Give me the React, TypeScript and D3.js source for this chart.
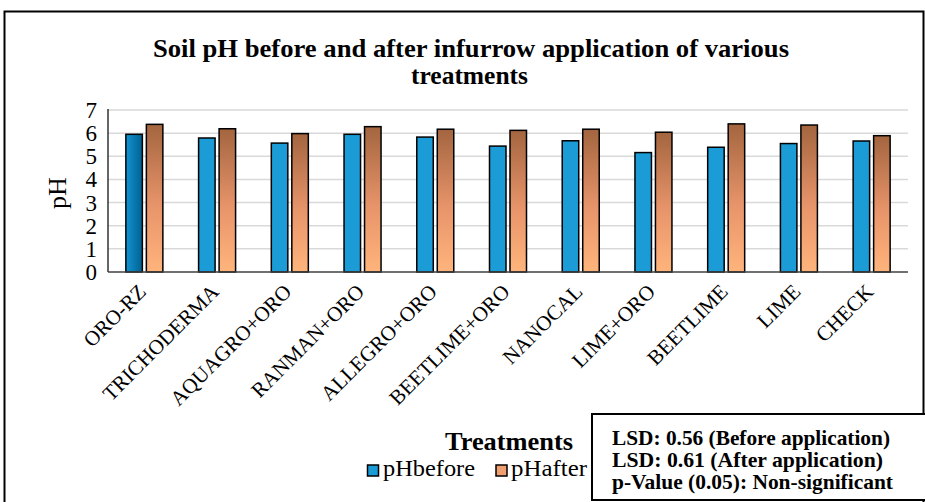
import React from "react";
import * as d3 from "d3";

const categories = ["ORO-RZ", "TRICHODERMA", "AQUAGRO+ORO", "RANMAN+ORO", "ALLEGRO+ORO", "BEETLIME+ORO", "NANOCAL", "LIME+ORO", "BEETLIME", "LIME", "CHECK"];
const pHbefore = [5.95, 5.79, 5.57, 5.95, 5.83, 5.44, 5.67, 5.16, 5.39, 5.55, 5.66];
const pHafter = [6.38, 6.19, 5.98, 6.28, 6.17, 6.12, 6.17, 6.04, 6.40, 6.35, 5.89];
const yTicks = [0, 1, 2, 3, 4, 5, 6, 7];
const seriesNames = ["pHbefore", "pHafter"];
const statLines = ["LSD: 0.56 (Before application)", "LSD: 0.61 (After application)", "p-Value (0.05): Non-significant"];

const FONT = "Liberation Serif, DejaVu Serif, serif";

export default function App() {
  const W = 925, H = 502;
  const left = 108, right = 908, top = 110, bottom = 272;
  const x = d3.scaleBand<string>().domain(categories).range([left, right]).padding(0);
  const y = d3.scaleLinear().domain([0, 7]).range([bottom, top]);
  const barW = 16.5, gap = 4;
  const blue = "#1B9CD6";
  const tf = { fontFamily: FONT };
  const statLens = [278, 271, 281];

  return (
    <svg width={W} height={H} style={{ position: "absolute", left: 0, top: 0, background: "#fff", fontFamily: FONT }}>
      <defs>
        <linearGradient id="orangeGrad" x1="0" y1="0" x2="0" y2="1">
          <stop offset="0%" stopColor="#A3653F" />
          <stop offset="55%" stopColor="#E8946A" />
          <stop offset="100%" stopColor="#FFB47C" />
        </linearGradient>
        <linearGradient id="blueGrad" x1="0" y1="0" x2="1" y2="0">
          <stop offset="0%" stopColor="#1194D4" />
          <stop offset="100%" stopColor="#02608F" />
        </linearGradient>
      </defs>
      <rect x={0} y={0} width={W} height={H} fill="#fff" />
      <path d={`M4.5,${H} V11.5 H923.5 V${H}`} fill="none" stroke="#000" strokeWidth={2} />
      <text style={tf} x={153} y={57} fontSize={25} fontWeight="bold" textLength={636} lengthAdjust="spacingAndGlyphs">Soil pH before and after infurrow application of various</text>
      <text style={tf} x={411} y={84} fontSize={25} fontWeight="bold" textLength={117} lengthAdjust="spacingAndGlyphs">treatments</text>
      {yTicks.filter(t => t > 0).map(t => (
        <line key={t} x1={left} x2={right} y1={y(t)} y2={y(t)} stroke="#d9d9d9" strokeWidth={1.5} />
      ))}
      {yTicks.map(t => (
        <text style={tf} key={t} x={97} y={y(t) + 8} textAnchor="end" fontSize={23}>{t}</text>
      ))}
      <text style={tf} transform={`translate(66,${(top + bottom) / 2 + 2}) rotate(-90)`} textAnchor="middle" fontSize={26}>pH</text>
      {categories.map((c, i) => {
        const cx = (x(c) as number) + x.bandwidth() / 2;
        const b = pHbefore[i], a = pHafter[i];
        return (
          <g key={c}>
            <rect x={cx - gap / 2 - barW} y={y(b)} width={barW} height={bottom - y(b)} fill={i === 0 ? "url(#blueGrad)" : blue} stroke="#000" strokeWidth={1.5} />
            <rect x={cx + gap / 2} y={y(a)} width={barW} height={bottom - y(a)} fill="url(#orangeGrad)" stroke="#000" strokeWidth={1.5} />
          </g>
        );
      })}
      <line x1={left} x2={left} y1={top - 1} y2={bottom} stroke="#000" strokeWidth={1.2} />
      <line x1={left} x2={right} y1={bottom} y2={bottom} stroke="#404040" strokeWidth={1.5} />
      {categories.map(c => {
        const cx = (x(c) as number) + x.bandwidth() / 2;
        return (
          <text style={tf} key={c} transform={`translate(${cx + 3},${bottom + 21}) rotate(-45)`} textAnchor="end" fontSize={21}>{c}</text>
        );
      })}
      <text style={tf} x={445} y={450} fontSize={25} fontWeight="bold" textLength={128} lengthAdjust="spacingAndGlyphs">Treatments</text>
      <rect x={367.5} y={465} width={11} height={11} fill={blue} stroke="#000" strokeWidth={1.5} />
      <text style={tf} x={383} y={476} fontSize={23} textLength={92} lengthAdjust="spacingAndGlyphs">{seriesNames[0]}</text>
      <rect x={496} y={465} width={11} height={11} fill="#F0A070" stroke="#000" strokeWidth={1.5} />
      <text style={tf} x={511} y={476} fontSize={23} textLength={76} lengthAdjust="spacingAndGlyphs">{seriesNames[1]}</text>
      <rect x={592} y={414} width={340} height={86} fill="#fff" stroke="#000" strokeWidth={2} />
      {statLines.map((s, i) => (
        <text style={tf} key={s} x={612} y={445 + i * 22} fontSize={21} fontWeight="bold" textLength={statLens[i]} lengthAdjust="spacingAndGlyphs">{s}</text>
      ))}
    </svg>
  );
}
